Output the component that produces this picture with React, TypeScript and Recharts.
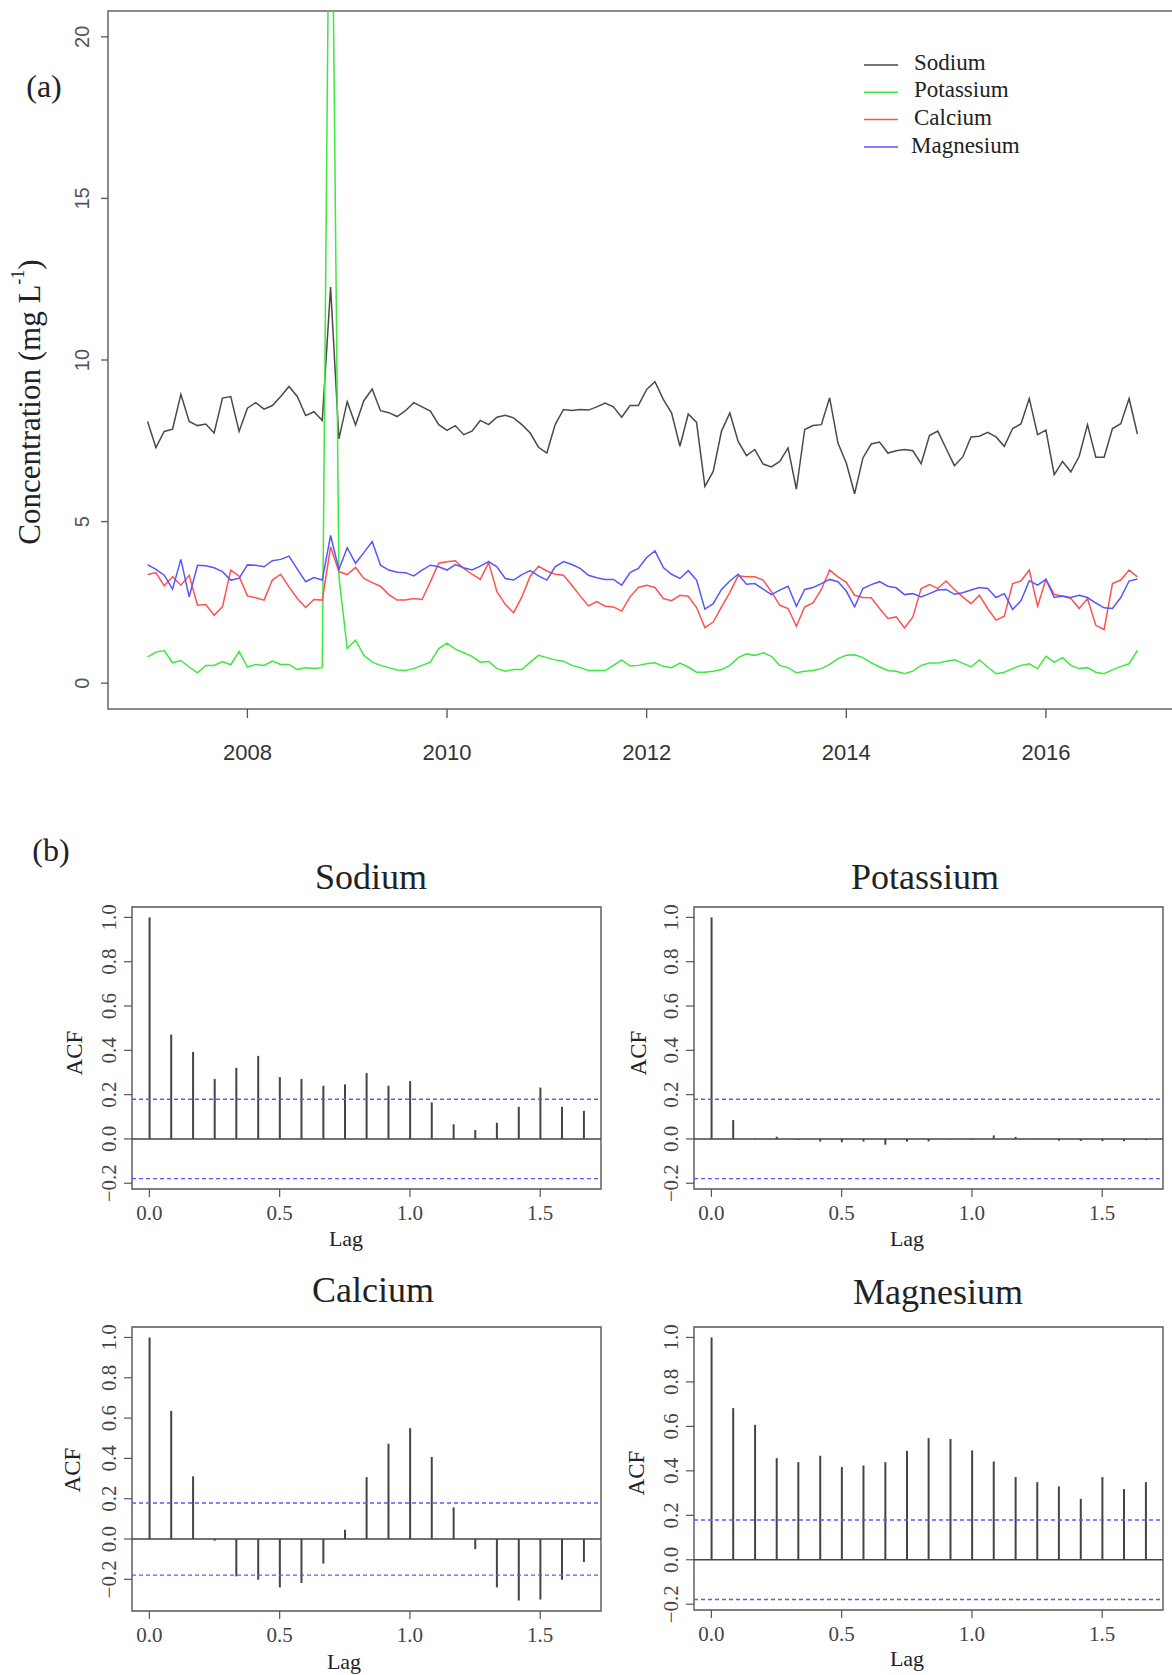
import React from 'react';
import {
  LineChart, Line, BarChart, Bar,
  XAxis, YAxis, ReferenceLine, ReferenceArea
} from 'recharts';

// monthly concentrations, Jan 2007 - Dec 2016 (mg/L)
const startYear = 2007;

const sodium = [
  8.10, 7.29, 7.79, 7.86, 8.94, 8.10, 7.97, 8.02, 7.74, 8.82,
  8.87, 7.79, 8.51, 8.68, 8.48, 8.59, 8.87, 9.18, 8.87, 8.28,
  8.40, 8.13, 12.26, 7.56, 8.71, 7.99, 8.74, 9.10, 8.43, 8.37,
  8.25, 8.43, 8.68, 8.55, 8.42, 8.00, 7.82, 7.97, 7.69, 7.80,
  8.13, 8.00, 8.23, 8.29, 8.21, 8.00, 7.74, 7.30, 7.12, 8.00,
  8.47, 8.44, 8.47, 8.45, 8.55, 8.67, 8.55, 8.23, 8.59, 8.59,
  9.09, 9.33, 8.78, 8.36, 7.33, 8.33, 8.07, 6.09, 6.55, 7.80,
  8.36, 7.48, 7.04, 7.23, 6.78, 6.69, 6.86, 7.28, 6.00, 7.85,
  7.97, 8.00, 8.83, 7.43, 6.81, 5.86, 6.97, 7.40, 7.46, 7.12,
  7.19, 7.23, 7.19, 6.79, 7.66, 7.80, 7.26, 6.73, 7.00, 7.62,
  7.64, 7.76, 7.62, 7.33, 7.88, 8.02, 8.81, 7.69, 7.83, 6.45,
  6.86, 6.54, 7.02, 8.00, 6.99, 6.99, 7.88, 8.03, 8.81, 7.71,
];

const potassium = [
  0.81, 0.96, 1.01, 0.63, 0.70, 0.50, 0.32, 0.55, 0.55, 0.67,
  0.57, 0.98, 0.50, 0.58, 0.55, 0.68, 0.58, 0.58, 0.42, 0.48,
  0.45, 0.48, 30.0, 3.30, 1.07, 1.33, 0.86, 0.65, 0.55, 0.48,
  0.41, 0.39, 0.45, 0.55, 0.65, 1.07, 1.24, 1.05, 0.94, 0.83,
  0.65, 0.67, 0.45, 0.37, 0.42, 0.42, 0.65, 0.86, 0.79, 0.72,
  0.68, 0.55, 0.48, 0.39, 0.39, 0.39, 0.55, 0.72, 0.53, 0.55,
  0.60, 0.63, 0.52, 0.48, 0.62, 0.50, 0.34, 0.34, 0.37, 0.42,
  0.55, 0.79, 0.91, 0.86, 0.94, 0.83, 0.55, 0.48, 0.32, 0.37,
  0.39, 0.45, 0.58, 0.76, 0.86, 0.88, 0.79, 0.63, 0.50, 0.39,
  0.37, 0.29, 0.37, 0.55, 0.62, 0.62, 0.68, 0.72, 0.62, 0.50,
  0.72, 0.50, 0.29, 0.34, 0.45, 0.55, 0.60, 0.45, 0.83, 0.65,
  0.79, 0.55, 0.45, 0.48, 0.34, 0.29, 0.41, 0.52, 0.60, 1.01,
];

const calcium = [
  3.36, 3.42, 3.01, 3.29, 3.03, 3.34, 2.41, 2.43, 2.10, 2.36,
  3.50, 3.31, 2.70, 2.64, 2.57, 3.19, 3.37, 2.98, 2.62, 2.34,
  2.59, 2.57, 4.22, 3.45, 3.36, 3.58, 3.24, 3.11, 3.00, 2.74,
  2.57, 2.57, 2.62, 2.59, 3.14, 3.71, 3.76, 3.79, 3.55, 3.37,
  3.21, 3.73, 2.83, 2.44, 2.18, 2.67, 3.31, 3.62, 3.47, 3.37,
  3.34, 3.03, 2.70, 2.39, 2.52, 2.38, 2.36, 2.23, 2.67, 2.96,
  3.03, 2.96, 2.62, 2.55, 2.72, 2.69, 2.34, 1.72, 1.89, 2.36,
  2.81, 3.32, 3.29, 3.29, 3.19, 2.83, 2.41, 2.31, 1.76, 2.36,
  2.48, 2.90, 3.50, 3.29, 3.12, 2.72, 2.65, 2.64, 2.31, 2.00,
  2.05, 1.71, 2.05, 2.93, 3.05, 2.93, 3.16, 2.90, 2.67, 2.46,
  2.72, 2.31, 1.95, 2.07, 3.08, 3.16, 3.50, 2.38, 3.21, 2.75,
  2.69, 2.62, 2.31, 2.62, 1.79, 1.66, 3.08, 3.19, 3.50, 3.29,
];

const magnesium = [
  3.67, 3.52, 3.34, 2.91, 3.83, 2.67, 3.65, 3.63, 3.57, 3.45,
  3.19, 3.24, 3.66, 3.65, 3.60, 3.79, 3.83, 3.93, 3.53, 3.14,
  3.27, 3.19, 4.57, 3.52, 4.19, 3.71, 4.04, 4.38, 3.65, 3.50,
  3.43, 3.42, 3.32, 3.50, 3.65, 3.60, 3.50, 3.67, 3.57, 3.50,
  3.62, 3.76, 3.60, 3.24, 3.19, 3.36, 3.48, 3.32, 3.19, 3.60,
  3.76, 3.67, 3.55, 3.34, 3.26, 3.21, 3.21, 3.03, 3.42, 3.55,
  3.89, 4.09, 3.58, 3.37, 3.24, 3.48, 3.19, 2.29, 2.46, 2.90,
  3.16, 3.37, 3.06, 3.08, 2.91, 2.74, 2.88, 3.00, 2.38, 2.90,
  2.96, 3.08, 3.21, 3.14, 2.85, 2.36, 2.93, 3.05, 3.14, 3.00,
  2.95, 2.74, 2.77, 2.67, 2.77, 2.88, 2.90, 2.75, 2.80, 2.88,
  2.96, 2.93, 2.65, 2.77, 2.28, 2.55, 3.17, 3.03, 3.21, 2.65,
  2.70, 2.65, 2.72, 2.65, 2.48, 2.33, 2.31, 2.65, 3.16, 3.22,
];

const yearTicks = [2008, 2010, 2012, 2014, 2016];
const concTicks = [0, 5, 10, 15, 20];

// autocorrelation, lags in years (monthly lags 0..20)
const lags = [
  0, 0.083, 0.167, 0.25, 0.333, 0.417, 0.5, 0.583, 0.667, 0.75, 0.833,
  0.917, 1, 1.083, 1.167, 1.25, 1.333, 1.417, 1.5, 1.583, 1.667,
];
const acfSodium = [
  1, 0.471, 0.393, 0.271, 0.321, 0.375, 0.279, 0.271, 0.240, 0.246, 0.298,
  0.240, 0.261, 0.165, 0.066, 0.040, 0.073, 0.145, 0.232, 0.145, 0.127,
];
const acfPotassium = [
  1, 0.085, 0.003, 0.010, -0.005, -0.012, -0.015, -0.012, -0.026, -0.012, -0.011,
  -0.002, -0.003, 0.016, 0.009, 0.002, -0.008, -0.009, -0.010, -0.010, -0.005,
];
const acfCalcium = [
  1, 0.636, 0.311, -0.008, -0.185, -0.202, -0.240, -0.218, -0.122, 0.046, 0.307,
  0.473, 0.550, 0.407, 0.157, -0.050, -0.240, -0.305, -0.300, -0.202, -0.114,
];
const acfMagnesium = [
  1, 0.682, 0.607, 0.457, 0.439, 0.468, 0.417, 0.424, 0.439, 0.490, 0.547,
  0.543, 0.492, 0.442, 0.372, 0.349, 0.330, 0.274, 0.372, 0.318, 0.349,
];
const ciBound = 0.179;
const acfTicks = [-0.2, 0, 0.2, 0.4, 0.6, 0.8, 1.0];
const lagTicks = [0, 0.5, 1, 1.5];

const seriesData = sodium.map((v, i) => ({
  t: startYear + i / 12,
  sodium: v,
  potassium: potassium[i],
  calcium: calcium[i],
  magnesium: magnesium[i],
}));

const SERIF = '"Liberation Serif", "DejaVu Serif", serif';
const SANS = '"Liberation Sans", Arial, sans-serif';

const series = [
  { key: 'sodium', name: 'Sodium', color: '#4a4a4a' },
  { key: 'potassium', name: 'Potassium', color: '#3ee83e' },
  { key: 'calcium', name: 'Calcium', color: '#ff5252' },
  { key: 'magnesium', name: 'Magnesium', color: '#5656ff' },
];

const YearTick = (props: any) => {
  const { x, y, payload } = props;
  return (
    <text x={x} y={y + 32} textAnchor="middle" dominantBaseline="central"
      fontFamily={SANS} fontSize={22} fill="#333">{payload.value}</text>
  );
};

const ConcTick = (props: any) => {
  const { x, y, payload } = props;
  const cx = x - 17;
  return (
    <text x={cx} y={y} transform={`rotate(-90 ${cx} ${y})`} textAnchor="middle"
      dominantBaseline="central" fontFamily={SANS} fontSize={20} fill="#555">{payload.value}</text>
  );
};

const fmt = (v: number) => (v < 0 ? '\u2212' : '') + Math.abs(v).toFixed(1);

const AcfYTick = (props: any) => {
  const { x, y, payload } = props;
  const cx = x - 13;
  return (
    <text x={cx} y={y} transform={`rotate(-90 ${cx} ${y})`} textAnchor="middle"
      dominantBaseline="central" fontFamily={SERIF} fontSize={21} fill="#444">{fmt(payload.value)}</text>
  );
};

const AcfXTick = (props: any) => {
  const { x, y, payload } = props;
  return (
    <text x={x} y={y + 14} textAnchor="middle" dominantBaseline="central"
      fontFamily={SERIF} fontSize={21} fill="#444">{fmt(payload.value)}</text>
  );
};

const lagDomain: [number, number] = [-0.0667, 1.7333];

interface AcfPanelProps {
  values: number[];
  plotLeft: number;
  plotTop: number;
  plotH: number;
  yDomain: [number, number];
}

const AcfPanel: React.FC<AcfPanelProps> = ({ values, plotLeft, plotTop, plotH, yDomain }) => {
  const data = lags.map((lag, k) => ({ lag, acf: values[k] }));
  const yw = 60;
  return (
    <div style={{ position: 'absolute', left: plotLeft - yw, top: plotTop - 5 }}>
      <BarChart width={yw + 469 + 2} height={5 + plotH + 60} data={data}
        margin={{ top: 5, right: 2, bottom: 0, left: 0 }}>
        <XAxis type="number" dataKey="lag" domain={lagDomain} ticks={lagTicks} interval={0}
          allowDataOverflow axisLine={false} tickSize={8} height={60}
          tickLine={{ stroke: '#555', strokeWidth: 1.2 }} tick={<AcfXTick />} />
        <YAxis type="number" domain={yDomain} ticks={acfTicks} interval={0} allowDataOverflow
          width={yw} axisLine={false} tickSize={8}
          tickLine={{ stroke: '#555', strokeWidth: 1.2 }} tick={<AcfYTick />} />
        <ReferenceArea x1={lagDomain[0]} x2={lagDomain[1]} y1={yDomain[0]} y2={yDomain[1]}
          fill="none" stroke="#555" strokeWidth={1.4} ifOverflow="visible" />
        <ReferenceLine y={ciBound} stroke="#5a5aff" strokeDasharray="4 3" strokeWidth={1.4} />
        <ReferenceLine y={-ciBound} stroke="#5a5aff" strokeDasharray="4 3" strokeWidth={1.4} />
        <ReferenceLine y={0} stroke="#444" strokeWidth={1.4} />
        <Bar dataKey="acf" fill="#444" barSize={2} isAnimationActive={false} />
      </BarChart>
    </div>
  );
};

const App: React.FC = () => {
  return (
    <div style={{
      position: 'absolute', left: 0, top: 0, width: 1172, height: 1675,
      overflow: 'hidden', background: '#fff',
    }}>
      <div style={{ position: 'absolute', left: 0, top: 0 }}>
        <LineChart width={1178} height={770} data={seriesData}
          margin={{ top: 11, right: 1, bottom: 0, left: 0 }}>
          <XAxis type="number" dataKey="t" domain={[2006.6033, 2017.3133]} ticks={yearTicks}
            interval={0} allowDataOverflow axisLine={false} tickSize={9} height={61}
            tickLine={{ stroke: '#555', strokeWidth: 1.3 }} tick={<YearTick />} />
          <YAxis type="number" domain={[-0.8, 20.8]} ticks={concTicks} interval={0}
            allowDataOverflow width={108} axisLine={false} tickSize={7}
            tickLine={{ stroke: '#555', strokeWidth: 1.3 }} tick={<ConcTick />} />
          <ReferenceArea x1={2006.6033} x2={2017.3133} y1={-0.8} y2={20.8}
            fill="none" stroke="#666" strokeWidth={1.5} ifOverflow="visible" />
          {series.map(s => (
            <Line key={s.key} type="linear" dataKey={s.key} name={s.name} stroke={s.color}
              strokeWidth={1.5} dot={false} isAnimationActive={false} />
          ))}
        </LineChart>
      </div>

      <AcfPanel values={acfSodium} plotLeft={132} plotTop={907} plotH={282} yDomain={[-0.226, 1.047]} />
      <AcfPanel values={acfPotassium} plotLeft={694} plotTop={907} plotH={282} yDomain={[-0.226, 1.047]} />
      <AcfPanel values={acfCalcium} plotLeft={132} plotTop={1327} plotH={284} yDomain={[-0.357, 1.052]} />
      <AcfPanel values={acfMagnesium} plotLeft={694} plotTop={1327} plotH={283} yDomain={[-0.226, 1.047]} />

      <svg width={1172} height={1675} style={{ position: 'absolute', left: 0, top: 0, pointerEvents: 'none' }}>
        <g fontFamily={SERIF} fill="#222">
          <text x={44} y={86} fontSize={32} textAnchor="middle" dominantBaseline="central">(a)</text>
          <text x={29} y={402} fontSize={31} textAnchor="middle" dominantBaseline="central"
            transform="rotate(-90 29 402)">
            Concentration (mg L<tspan fontSize={18} dy={-11}>-1</tspan><tspan dy={11}>)</tspan>
          </text>
          {series.map((s, k) => (
            <g key={s.key}>
              <line x1={864} x2={898} y1={65 + k * 27.3} y2={65 + k * 27.3} stroke={s.color} strokeWidth={1.5} />
              <text x={k === 3 ? 911 : 914} y={62 + k * 27.7} fontSize={23} dominantBaseline="central">{s.name}</text>
            </g>
          ))}

          <text x={51} y={850} fontSize={32} textAnchor="middle" dominantBaseline="central">(b)</text>

          <text x={371} y={877} fontSize={36} textAnchor="middle" dominantBaseline="central">Sodium</text>
          <text x={925} y={877} fontSize={36} textAnchor="middle" dominantBaseline="central">Potassium</text>
          <text x={373} y={1290} fontSize={36} textAnchor="middle" dominantBaseline="central">Calcium</text>
          <text x={938} y={1292} fontSize={36} textAnchor="middle" dominantBaseline="central">Magnesium</text>

          <text x={74} y={1053} fontSize={23} textAnchor="middle" dominantBaseline="central" transform="rotate(-90 74 1053)">ACF</text>
          <text x={638} y={1053} fontSize={23} textAnchor="middle" dominantBaseline="central" transform="rotate(-90 638 1053)">ACF</text>
          <text x={72} y={1470} fontSize={23} textAnchor="middle" dominantBaseline="central" transform="rotate(-90 72 1470)">ACF</text>
          <text x={636} y={1473} fontSize={23} textAnchor="middle" dominantBaseline="central" transform="rotate(-90 636 1473)">ACF</text>

          <text x={346} y={1238} fontSize={22} textAnchor="middle" dominantBaseline="central">Lag</text>
          <text x={907} y={1238} fontSize={22} textAnchor="middle" dominantBaseline="central">Lag</text>
          <text x={344} y={1661} fontSize={22} textAnchor="middle" dominantBaseline="central">Lag</text>
          <text x={907} y={1658} fontSize={22} textAnchor="middle" dominantBaseline="central">Lag</text>
        </g>
      </svg>
    </div>
  );
};

export default App;
